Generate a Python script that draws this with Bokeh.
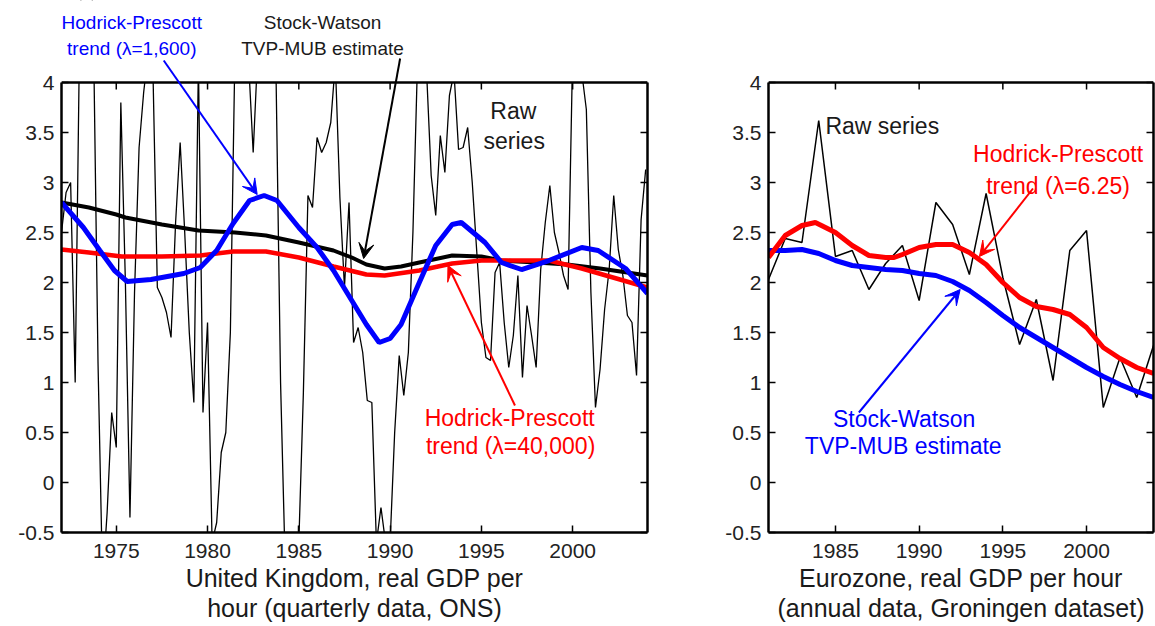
from bokeh.plotting import figure
from bokeh.models import Range1d, FixedTicker, LinearAxis, Label, Arrow, VeeHead, Span
from bokeh.layouts import row
from bokeh.embed import file_html
from bokeh.resources import INLINE

FONT = "Liberation Sans"
TICK_COLOR = "#222222"
TEXT_DARK = "#1a1a1a"

# ---------------- data ----------------
y_ticks = [-0.5, 0, 0.5, 1, 1.5, 2, 2.5, 3, 3.5, 4]
y_tick_labels = ["-0.5", "0", "0.5", "1", "1.5", "2", "2.5", "3", "3.5", "4"]
uk_x_ticks = [1975, 1980, 1985, 1990, 1995, 2000]
ez_x_ticks = [1985, 1990, 1995, 2000]

# UK raw series, quarterly from 1972Q1
uk_start = 1972.0
uk_raw = [
    2.5, 2.9, 3.0, 1.0,
    4.6, 5.5, 5.8, 4.5,
    1.2, -1.0, -0.3, 0.7,
    0.35, 3.8, 2.0, -0.35,
    1.9, 3.35, 3.9, 4.3,
    4.2, 1.95, 1.85, 1.7,
    1.45, 2.6, 3.4, 2.5,
    1.5, 0.8, 4.2, 0.7,
    1.6, -0.6, -0.4, 0.3,
    0.5, 1.5, 4.3, 4.5,
    4.4, 4.2, 3.3, 4.3,
    4.5, 4.6, 4.4, 4.1,
    1.0, -0.8, -1.2, -0.9,
    -0.6, 0.9, 2.87, 2.75,
    3.45, 3.3, 3.4, 3.6,
    4.2, 2.85, 1.95, 2.8,
    1.4, 1.55, 1.3, 0.82,
    0.8, -0.6, -0.25, -0.6,
    -0.6, 0.5, 1.27, 0.87,
    1.3, 2.5, 4.2, 4.3,
    4.1, 3.07, 2.67, 3.47,
    3.1, 3.87, 4.1, 3.33,
    3.35, 3.55, 3.0, 2.3,
    1.6, 1.25, 1.22, 2.1,
    2.2, 1.6, 1.15, 1.47,
    2.07, 1.05, 1.77, 1.47,
    1.15, 2.13, 2.6, 2.97,
    2.5, 2.3, 2.07, 1.93,
    4.3, 4.4, 4.1, 3.73,
    1.9, 0.75, 1.13, 1.73,
    2.13, 2.87, 2.33, 2.07,
    1.67, 1.6, 1.07, 2.63,
    3.13,
]
uk_raw_years = [uk_start + q / 4 for q in range(len(uk_raw))]

uk_sw_years = [1972.0, 1973.5, 1975.0, 1975.5, 1977.5, 1979.5, 1981.5, 1983.2, 1985.0,
               1986.9, 1987.9, 1988.7, 1989.7, 1990.6, 1991.6, 1993.4, 1995.0, 1996.1,
               1998.0, 1999.7, 2001.5, 2004.1]
uk_sw = [2.80, 2.75, 2.68, 2.65, 2.58, 2.52, 2.50, 2.47, 2.40,
         2.32, 2.25, 2.18, 2.14, 2.16, 2.20, 2.27, 2.26, 2.22,
         2.20, 2.18, 2.14, 2.07]

uk_hp40k_years = [1972.0, 1973.5, 1975.3, 1977.5, 1979.6, 1981.4, 1983.2, 1985.0, 1986.9,
                  1988.7, 1989.7, 1991.6, 1993.4, 1995.0, 1996.1, 1998.7, 2000.5, 2002.4, 2004.1]
uk_hp40k = [2.33, 2.30, 2.26, 2.26, 2.27, 2.31, 2.31, 2.25, 2.16,
            2.08, 2.07, 2.12, 2.19, 2.22, 2.22, 2.22, 2.14, 2.04, 1.95]

uk_hp1600_years = [1972.0, 1973.2, 1974.1, 1974.9, 1975.6, 1976.9, 1978.7, 1979.6, 1980.5,
                   1981.4, 1982.3, 1983.1, 1983.8, 1985.0, 1986.0, 1986.9, 1987.8, 1988.7,
                   1989.4, 1990.0, 1990.6, 1991.6, 1992.5, 1993.4, 1993.9, 1995.2, 1996.1,
                   1997.2, 1998.7, 2000.5, 2001.4, 2002.9, 2004.1]
uk_hp1600 = [2.80, 2.55, 2.32, 2.12, 2.01, 2.03, 2.09, 2.15, 2.32,
             2.59, 2.82, 2.87, 2.82, 2.55, 2.35, 2.12, 1.85, 1.58,
             1.40, 1.44, 1.58, 2.00, 2.37, 2.58, 2.60, 2.40, 2.20,
             2.13, 2.22, 2.35, 2.32, 2.14, 1.89]

# Eurozone, annual
ez_years = list(range(1981, 2005))
ez_raw = [2.03, 2.44, 2.40, 3.62, 2.26, 2.32, 1.93, 2.19, 2.37, 1.82, 2.80, 2.58,
          2.08, 2.89, 2.05, 1.38, 1.83, 1.02, 2.32, 2.52, 0.75, 1.25, 0.85, 1.37]
ez_sw = [2.32, 2.32, 2.33, 2.29, 2.22, 2.17, 2.15, 2.13, 2.12, 2.09, 2.07, 2.01,
         1.92, 1.80, 1.67, 1.55, 1.45, 1.35, 1.25, 1.15, 1.06, 0.98, 0.91, 0.85]
ez_hp_years = [1981, 1982, 1983, 1983.8, 1985, 1986, 1987, 1988, 1988.5, 1989, 1990,
               1991, 1992, 1993, 1994, 1995, 1996, 1997, 1998, 1999, 2000, 2001, 2002,
               2003, 2004]
ez_hp = [2.25, 2.47, 2.57, 2.60, 2.50, 2.37, 2.27, 2.25, 2.25, 2.28, 2.35,
         2.38, 2.38, 2.30, 2.18, 2.00, 1.85, 1.76, 1.73, 1.68, 1.55, 1.35, 1.24,
         1.15, 1.09]

uk_xr = (1972.0, 2004.1)
ez_xr = (1981.0, 2004.0)
y_box = (-0.5, 4.0)            # the axes box
y_view_top = 4.82              # room above the box for annotations

# ---------------- layout (pixels) ----------------
W1, W2 = 708, 447
H = 625
BOTTOM = 93
UK_BL, UK_BR = 61, 61          # box 61..647
EZ_BL, EZ_BR = 60, 2           # box 768..1153


# ---------------- helpers ----------------
def style_axis(ax, ticks, labels, standoff):
    ax.ticker = FixedTicker(ticks=ticks)
    ax.major_tick_in = 7
    ax.major_tick_out = 0
    ax.minor_tick_line_color = None
    ax.axis_line_width = 2.5
    ax.axis_line_color = "black"
    ax.major_tick_line_width = 1.5
    ax.major_tick_line_color = "black"
    ax.major_label_text_font = FONT
    ax.major_label_standoff = standoff
    if labels is None:
        ax.major_label_overrides = {t: "" for t in ticks}
        ax.major_label_text_font_size = "1px"
    else:
        ax.major_label_overrides = {t: s for t, s in zip(ticks, labels)}
        ax.major_label_text_font_size = "21px"
        ax.major_label_text_color = TICK_COLOR


def make_fig(width, bl, br, xr, xticks, title):
    p = figure(width=width, height=H, x_range=Range1d(*xr),
               y_range=Range1d(y_box[0], y_view_top),
               min_border_left=bl, min_border_right=br,
               min_border_top=0, min_border_bottom=BOTTOM,
               toolbar_location=None, tools="", output_backend="svg")
    p.title.visible = False
    p.xgrid.grid_line_color = None
    p.ygrid.grid_line_color = None
    p.outline_line_color = None
    p.background_fill_color = "white"
    p.border_fill_color = "white"

    xa = p.xaxis[0]
    style_axis(xa, xticks, [str(t) for t in xticks], 11)
    xa.axis_label = title
    xa.axis_label_text_font = FONT
    xa.axis_label_text_font_size = "25px"
    xa.axis_label_text_font_style = "normal"
    xa.axis_label_text_color = TEXT_DARK
    xa.axis_label_text_line_height = 1.1
    xa.axis_label_standoff = 3

    ya = p.yaxis[0]
    style_axis(ya, y_ticks, y_tick_labels, 7)
    ya.bounds = y_box
    right = LinearAxis(bounds=y_box)
    style_axis(right, y_ticks, None, 0)
    p.add_layout(right, "right")
    # top edge of the box
    p.add_layout(Span(location=y_box[1], dimension="width", line_color="black", line_width=2.5))
    return p


def top_ticks(p, xticks):
    p.segment(x0=xticks, y0=[y_box[1]] * len(xticks), x1=xticks,
              y1=[y_box[1] - 0.07] * len(xticks), line_color="black", line_width=1.5)


def mask_above_box(p, xr):
    # white band that hides the raw series where it leaves the box (the box clips it)
    p.quad(left=[xr[0] - 5], right=[xr[1] + 5], bottom=[y_box[1]], top=[y_view_top + 1],
           fill_color="white", line_color=None)


def label(p, x, y, text, color, size="23px", align="center"):
    p.add_layout(Label(x=x, y=y, text=text, text_align=align, text_baseline="middle",
                       text_font=FONT, text_font_size=size, text_color=color))


def arrow(p, xs, ys, xe, ye, color):
    p.add_layout(Arrow(end=VeeHead(size=15, line_color=color, fill_color=color, line_width=1),
                       x_start=xs, y_start=ys, x_end=xe, y_end=ye,
                       line_color=color, line_width=2))


# ---------------- UK panel ----------------
p1 = make_fig(W1, UK_BL, UK_BR, uk_xr, uk_x_ticks,
              "United Kingdom, real GDP per\nhour (quarterly data, ONS)")
p1.line(uk_raw_years, uk_raw, line_color="black", line_width=1.3)
mask_above_box(p1, uk_xr)
p1.line(uk_sw_years, uk_sw, line_color="black", line_width=4)
p1.line(uk_hp40k_years, uk_hp40k, line_color="red", line_width=4.5)
p1.line(uk_hp1600_years, uk_hp1600, line_color="blue", line_width=5)
top_ticks(p1, uk_x_ticks)

label(p1, 1975.85, 4.60, "Hodrick-Prescott", "blue", size="19px")
label(p1, 1975.85, 4.345, "trend (\u03bb=1,600)", "blue", size="19px")
label(p1, 1986.3, 4.605, "Stock-Watson", TEXT_DARK, size="19px")
label(p1, 1986.3, 4.345, "TVP-MUB estimate", TEXT_DARK, size="19px")
label(p1, 1996.75, 3.72, "Raw", TEXT_DARK)
label(p1, 1996.8, 3.42, "series", TEXT_DARK)
label(p1, 1996.55, 0.65, "Hodrick-Prescott", "red")
label(p1, 1996.6, 0.365, "trend (\u03bb=40,000)", "red")

arrow(p1, 1977.6, 4.22, 1982.72, 2.88, "blue")
arrow(p1, 1990.55, 4.24, 1988.55, 2.24, "black")
arrow(p1, 1996.84, 0.77, 1993.17, 2.17, "red")

# ---------------- Eurozone panel ----------------
p2 = make_fig(W2, EZ_BL, EZ_BR, ez_xr, ez_x_ticks,
              "Eurozone, real GDP per hour\n(annual data, Groningen dataset)")
p2.line(ez_years, ez_raw, line_color="black", line_width=1.5)
mask_above_box(p2, ez_xr)
p2.line(ez_years, ez_sw, line_color="blue", line_width=5)
p2.line(ez_hp_years, ez_hp, line_color="red", line_width=5)
top_ticks(p2, ez_x_ticks)

label(p2, 1984.4, 3.57, "Raw series", TEXT_DARK, align="left")
label(p2, 1998.3, 3.29, "Hodrick-Prescott", "red")
label(p2, 1998.3, 2.97, "trend (\u03bb=6.25)", "red")
label(p2, 1989.1, 0.64, "Stock-Watson", "blue")
label(p2, 1989.05, 0.365, "TVP-MUB estimate", "blue")

arrow(p2, 1996.8, 2.94, 1993.6, 2.26, "red")
arrow(p2, 1986.4, 0.70, 1992.45, 1.93, "blue")

layout = row(p1, p2)
open("out.html", "w").write(file_html(layout, INLINE))
